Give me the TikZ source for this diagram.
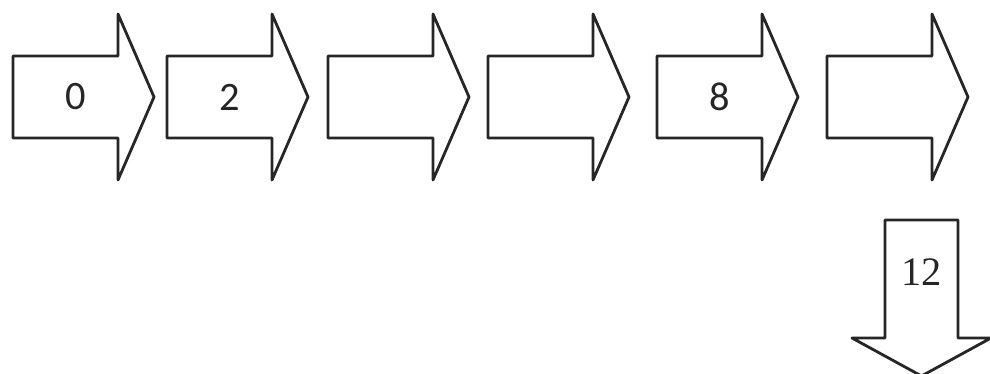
\documentclass[tikz,border=0pt]{standalone}
\usepackage{fontspec}
\setmainfont{Carlito}
\newfontfamily\numserif{Liberation Serif}
\usetikzlibrary{calc}
\tikzset{
  shaft/.style = {
    minimum width=2.1cm, minimum height=1.64cm,
    inner sep=0pt, outer sep=0pt
  },
  vshaft/.style = {
    minimum width=1.46cm, minimum height=2.36cm,
    inner sep=0pt, outer sep=0pt
  },
  blk/.style = {line width=1.6pt, black!85, line join=round},
  num/.style = {font=\fontsize{23}{26}\selectfont, inner sep=0pt, black!85}
}
%% block arrow pointing right, drawn round a shaft node
\newcommand{\blockright}[1]{%
  \draw[blk] (#1.north west) -- (#1.north east) -- ++(0,0.84)
    -- ($(#1.east)+(0.72,0)$) -- ($(#1.south east)+(0,-0.84)$)
    -- (#1.south east) -- (#1.south west) -- cycle;}
%% block arrow pointing down
\newcommand{\blockdown}[1]{%
  \draw[blk] (#1.south west) -- (#1.north west) -- (#1.north east)
    -- (#1.south east) -- ++(0.66,0)
    -- ($(#1.south)+(0,-0.76)$) -- ($(#1.south west)+(-0.66,0)$) -- cycle;}

\begin{document}
\begin{tikzpicture}
  \useasboundingbox (0,0) rectangle (19.8,-7.48);

  %% Shafts of the row
  \node[shaft] (a1) at ( 1.31,-1.94) {};
  \node[shaft] (a2) at ( 4.39,-1.94) {};
  \node[shaft] (a3) at ( 7.61,-1.94) {};
  \node[shaft] (a4) at (10.81,-1.94) {};
  \node[shaft] (a5) at (14.19,-1.94) {};
  \node[shaft] (a6) at (17.59,-1.94) {};
  \node[vshaft] (d1) at (18.43,-5.58) {};

  %% Arrows
  \blockright{a1}
  \blockright{a2}
  \blockright{a3}
  \blockright{a4}
  \blockright{a5}
  \blockright{a6}
  \blockdown{d1}

  %% Numbers
  \node[num] (n0) at ([xshift=0.21cm]a1.center) {0};
  \node[num] (n2) at ([xshift=0.21cm]a2.center) {2};
  \node[num] (n8) at ([xshift=0.21cm]a5.center) {8};
  \node[num] (n12) at ([yshift=0.14cm]d1.center) {\numserif 12};
\end{tikzpicture}
\end{document}
